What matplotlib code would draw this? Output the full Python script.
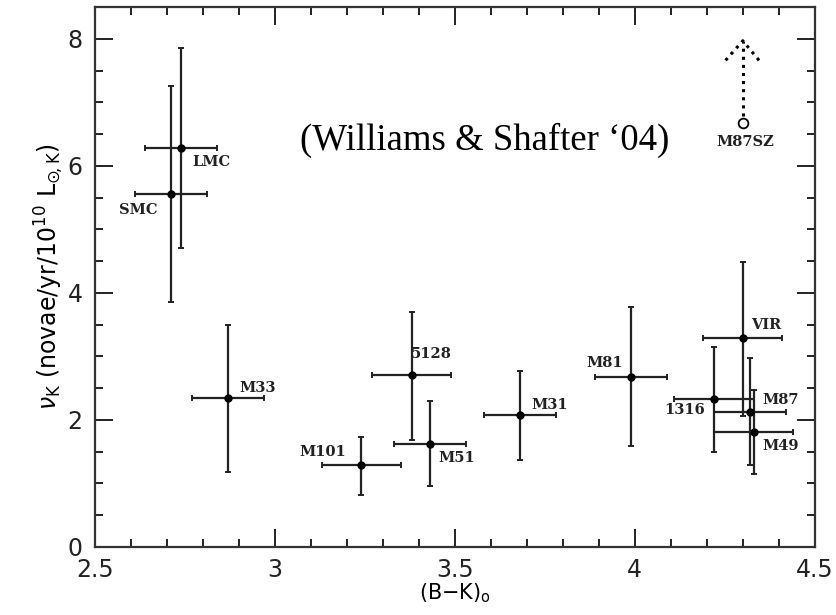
import matplotlib
matplotlib.use("Agg")
import matplotlib.pyplot as plt
from matplotlib.ticker import MultipleLocator

# galaxy colours (B-K)_o and nova rates
names = ["LMC", "SMC", "M33", "M101", "5128", "M51", "M31", "M81", "VIR", "1316", "M87", "M49"]
bk = [2.74, 2.71, 2.87, 3.24, 3.38, 3.43, 3.68, 3.99, 4.30, 4.22, 4.32, 4.33]
bk_err = [0.10, 0.10, 0.10, 0.11, 0.11, 0.10, 0.10, 0.10, 0.11, 0.11, 0.10, 0.11]
rate = [6.28, 5.55, 2.34, 1.28, 2.70, 1.62, 2.07, 2.67, 3.28, 2.33, 2.13, 1.81]
rate_lo = [1.58, 1.69, 1.16, 0.47, 1.02, 0.66, 0.70, 1.08, 1.22, 0.83, 0.85, 0.66]
rate_hi = [1.57, 1.70, 1.16, 0.45, 1.00, 0.67, 0.70, 1.10, 1.21, 0.82, 0.84, 0.66]

# label positions (data coords) and alignment
lab_x = [2.77, 2.675, 2.90, 3.198, 3.378, 3.453, 3.713, 3.968, 4.324, 4.194, 4.355, 4.355]
lab_y = [6.06, 5.31, 2.50, 1.50, 3.04, 1.39, 2.23, 2.89, 3.49, 2.15, 2.31, 1.59]
lab_ha = ["left", "right", "left", "right", "left", "left", "left", "right", "left", "right", "left", "left"]

# lower limit point
sz_name = "M87SZ"
sz_bk = 4.30
sz_rate = 6.68
sz_arrow_top = 7.97

fig = plt.figure(figsize=(8.37, 6.15), dpi=100)
ax = fig.add_axes([0.1135, 0.111, 0.86, 0.8775])

ax.errorbar(bk, rate, xerr=bk_err, yerr=[rate_lo, rate_hi], fmt="o", color="black",
            ms=5, elinewidth=1.6, capsize=2.5, capthick=1.4, ecolor="#222222")

for n, x, y, ha in zip(names, lab_x, lab_y, lab_ha):
    ax.text(x, y, n, ha=ha, va="center", fontsize=10.5, fontweight="bold",
            family="DejaVu Serif", color="#222222")

# M87SZ open circle with dotted arrow upward
ax.plot([sz_bk], [sz_rate], "o", mfc="white", mec="black", ms=7, mew=1.3)
ax.plot([sz_bk, sz_bk], [sz_rate + 0.1, sz_arrow_top], ls=":", color="black", lw=2.2)
ax.plot([sz_bk - 0.048, sz_bk, sz_bk + 0.045], [sz_arrow_top - 0.31, sz_arrow_top, sz_arrow_top - 0.31],
        ls=":", color="black", lw=2.2)
ax.text(sz_bk + 0.006, sz_rate - 0.3, sz_name, ha="center", va="center", fontsize=10.5,
        fontweight="bold", family="DejaVu Serif", color="#222222")

ax.text(3.583, 6.40, "(Williams & Shafter \u201804)", ha="center", va="center",
        fontsize=26.5, family="Liberation Serif")

ax.set_xlim(2.5, 4.5)
ax.set_ylim(0, 8.5)
ax.xaxis.set_major_locator(MultipleLocator(0.5))
ax.xaxis.set_minor_locator(MultipleLocator(0.1))
ax.yaxis.set_major_locator(MultipleLocator(2))
ax.yaxis.set_minor_locator(MultipleLocator(0.5))
ax.set_xticks([2.5, 3, 3.5, 4, 4.5])
ax.set_xticklabels(["2.5", "3", "3.5", "4", "4.5"])
ax.tick_params(which="both", direction="in", top=True, right=True, width=1.4,
               labelsize=17, colors="#222222")
ax.tick_params(which="major", length=13)
ax.tick_params(axis="x", which="major", pad=8)
ax.tick_params(axis="y", which="major", pad=9)
ax.tick_params(which="minor", length=6)
for s in ax.spines.values():
    s.set_linewidth(1.6)
    s.set_color("#333333")

ax.set_xlabel(r"(B$-$K)$_{\rm o}$", fontsize=15, labelpad=0)
ax.set_ylabel(r"$\nu_{\rm K}$ (novae/yr/10$^{10}$ L$_{\odot\!,\rm K}$)", fontsize=17, labelpad=1)

fig.savefig("out.png", dpi=100)
